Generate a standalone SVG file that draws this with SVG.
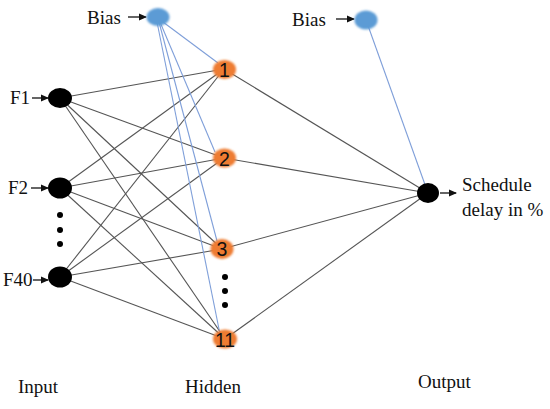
<svg xmlns="http://www.w3.org/2000/svg" width="550" height="409" viewBox="0 0 550 409">
<style>
.t{font-family:'Liberation Serif','DejaVu Serif',serif;font-size:19px;fill:#111}
.n{font-family:'Liberation Sans','DejaVu Sans',sans-serif;font-size:19.5px;fill:#111;text-anchor:middle}
.k{stroke:#555;stroke-width:1.1;fill:none}
.b{stroke:#7f9fd9;stroke-width:1.1;fill:none}
.ar{stroke:#111;stroke-width:1.3;fill:none}
.in{fill:#000}
.hid{fill:#ee7c30;filter:url(#g)}
.bias{fill:#5b9bd5;filter:url(#g)}
.dot{fill:#000}
</style>
<defs>
<marker id="ah" markerWidth="8" markerHeight="8" refX="7" refY="4" orient="auto" markerUnits="userSpaceOnUse">
<path d="M0,0.5 L8,4 L0,7.5 Z" fill="#111"/>
</marker>
<filter id="g" x="-50%" y="-50%" width="200%" height="200%">
<feGaussianBlur in="SourceGraphic" stdDeviation="1"/>
</filter>
</defs>
<rect width="550" height="409" fill="#fff"/>
<g id="connectors">
<line class="k" x1="60" y1="98" x2="224" y2="69"/>
<line class="k" x1="60" y1="98" x2="224" y2="158"/>
<line class="k" x1="60" y1="98" x2="222" y2="249"/>
<line class="k" x1="60" y1="98" x2="225" y2="339"/>
<line class="k" x1="60" y1="188" x2="224" y2="69"/>
<line class="k" x1="60" y1="188" x2="224" y2="158"/>
<line class="k" x1="60" y1="188" x2="222" y2="249"/>
<line class="k" x1="60" y1="188" x2="225" y2="339"/>
<line class="k" x1="60" y1="277" x2="224" y2="69"/>
<line class="k" x1="60" y1="277" x2="224" y2="158"/>
<line class="k" x1="60" y1="277" x2="222" y2="249"/>
<line class="k" x1="60" y1="277" x2="225" y2="339"/>
<line class="k" x1="224" y1="69" x2="428" y2="193"/>
<line class="k" x1="224" y1="158" x2="428" y2="193"/>
<line class="k" x1="222" y1="249" x2="428" y2="193"/>
<line class="k" x1="225" y1="339" x2="428" y2="193"/>
<line class="b" x1="163" y1="22" x2="218" y2="63"/>
<line class="b" x1="160" y1="22" x2="215" y2="152"/>
<line class="b" x1="159" y1="22" x2="217" y2="241"/>
<line class="b" x1="157" y1="22" x2="220" y2="334"/>
<line class="b" x1="366" y1="20" x2="428" y2="193"/>
<line class="ar" x1="128" y1="17" x2="146" y2="17" marker-end="url(#ah)"/>
<line class="ar" x1="336" y1="19" x2="354" y2="19" marker-end="url(#ah)"/>
<line class="ar" x1="32" y1="98" x2="48" y2="98" marker-end="url(#ah)"/>
<line class="ar" x1="31" y1="188" x2="48" y2="188" marker-end="url(#ah)"/>
<line class="ar" x1="33" y1="280" x2="48" y2="280" marker-end="url(#ah)"/>
<line class="ar" x1="440" y1="193" x2="456" y2="193" marker-end="url(#ah)"/>
</g>
<g id="bias1"><ellipse class="bias" cx="158" cy="17" rx="11.5" ry="9"/><text class="t" font-family="Liberation Serif" x="87" y="24">Bias</text></g>
<g id="bias2"><ellipse class="bias" cx="366" cy="20" rx="11.5" ry="9.5"/><text class="t" font-family="Liberation Serif" x="292" y="26">Bias</text></g>
<g id="f1"><ellipse class="in" cx="60" cy="98" rx="12" ry="10"/><text class="t" font-family="Liberation Serif" x="10" y="104">F1</text></g>
<g id="f2"><ellipse class="in" cx="60" cy="188" rx="12" ry="10.5"/><text class="t" font-family="Liberation Serif" x="8" y="194">F2</text></g>
<g id="f40"><ellipse class="in" cx="60" cy="277" rx="12" ry="10.5"/><text class="t" font-family="Liberation Serif" x="3" y="286">F40</text></g>
<g id="input-dots"><circle class="dot" cx="60" cy="215" r="3"/><circle class="dot" cx="60" cy="230" r="3"/><circle class="dot" cx="60" cy="244" r="3"/></g>
<g id="h1"><ellipse class="hid" cx="224.5" cy="69.5" rx="11.5" ry="9.5"/><text class="n" x="224.5" y="77">1</text></g>
<g id="h2"><ellipse class="hid" cx="224.5" cy="158" rx="11.5" ry="9.5"/><text class="n" x="224.5" y="165.5">2</text></g>
<g id="h3"><ellipse class="hid" cx="222" cy="249" rx="11.5" ry="10"/><text class="n" x="222" y="256">3</text></g>
<g id="h11"><ellipse class="hid" cx="225" cy="339" rx="12" ry="9.5"/><text class="n" x="225" y="346.5">11</text></g>
<g id="hidden-dots"><circle class="dot" cx="225" cy="277" r="3"/><circle class="dot" cx="225" cy="291" r="3"/><circle class="dot" cx="225" cy="305" r="3"/></g>
<g id="output"><ellipse class="in" cx="428" cy="193" rx="11" ry="10"/><text class="t" font-family="Liberation Serif" x="462" y="191">Schedule</text><text class="t" font-family="Liberation Serif" x="462" y="216">delay in %</text></g>
<text class="t" font-family="Liberation Serif" x="18" y="393">Input</text>
<text class="t" font-family="Liberation Serif" x="185" y="393">Hidden</text>
<text class="t" font-family="Liberation Serif" x="418" y="388">Output</text>
</svg>
